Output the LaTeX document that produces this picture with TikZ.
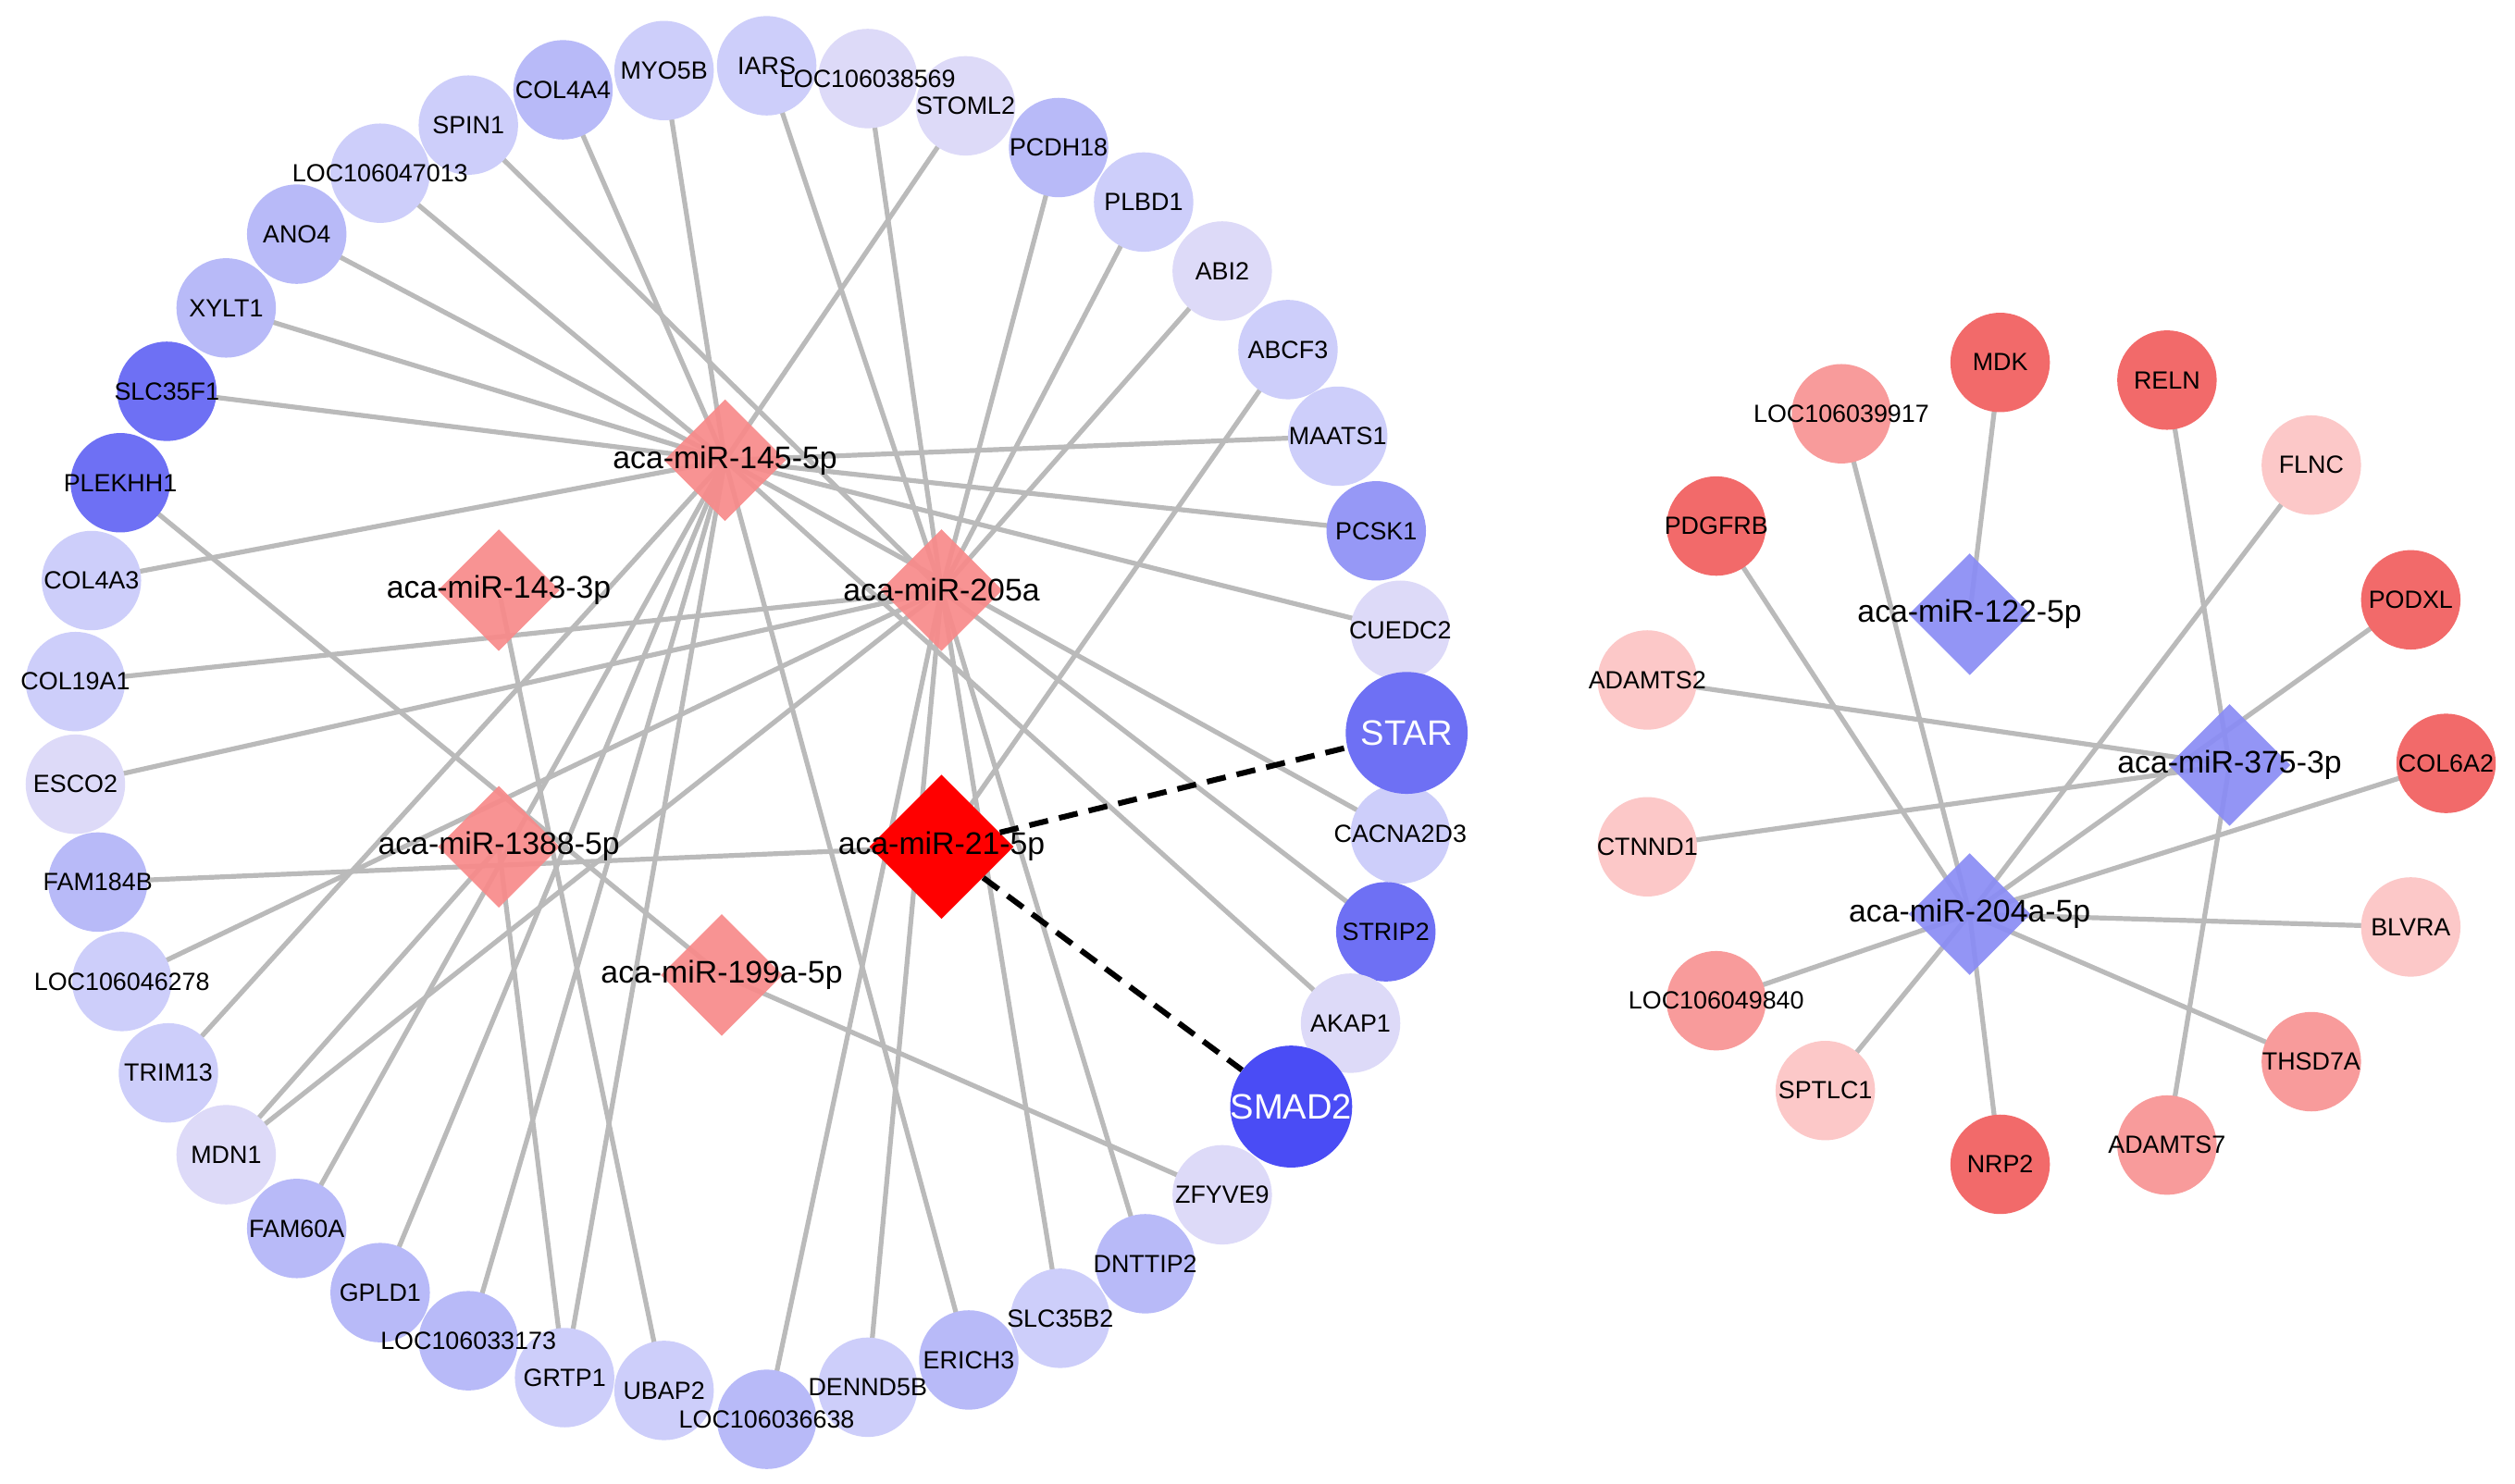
\documentclass[tikz,border=0pt]{standalone}
\usepackage{fontspec}
\setmainfont{Liberation Sans}
\usetikzlibrary{shapes.geometric}
\pgfdeclarelayer{bg}
\pgfdeclarelayer{fg}
\pgfsetlayers{bg,main,fg}
\definecolor{b1}{HTML}{6E70F4}
\definecolor{b0}{HTML}{4A4CF5}
\definecolor{b2}{HTML}{9698F6}
\definecolor{b3}{HTML}{B8BAF8}
\definecolor{b4}{HTML}{CDCEFA}
\definecolor{b5}{HTML}{DDDAF8}
\definecolor{r1}{HTML}{F26A6A}
\definecolor{r2}{HTML}{F89B9B}
\definecolor{r3}{HTML}{FCC8C8}
\definecolor{mr}{HTML}{F88A8A}
\definecolor{mb}{HTML}{8A8CF5}
\definecolor{eg}{HTML}{BABABA}
\tikzset{
 gn/.style={circle,draw=none,fill=#1,minimum size=62pt,inner sep=0pt},
 big/.style={circle,draw=none,fill=#1,minimum size=76pt,inner sep=0pt},
 mi/.style={diamond,draw=none,fill=#1,minimum width=76pt,minimum height=76pt,inner sep=0pt,fill opacity=0.92},
 lab/.style={font=\fontsize{15.5}{15.5}\selectfont,inner sep=0pt},
 mlab/.style={font=\fontsize{19.5}{19.5}\selectfont,inner sep=0pt},
 wlab/.style={font=\fontsize{22}{22}\selectfont,text=white,inner sep=0pt},
 ed/.style={draw=eg,line width=3pt},
 dsh/.style={draw=black,line width=3.5pt,dash pattern=on 12pt off 7pt}
}
\begin{document}
\begin{tikzpicture}[x=1pt,y=-1pt]
\useasboundingbox (0,0) rectangle (1568,925);
\begin{pgfonlayer}{bg}
\fill[white] (0,0) rectangle (1568,925);
\end{pgfonlayer}
\foreach \n/\x/\y/\c in {COL4A4/351/56/b3, MYO5B/414/44/b4, IARS/478/41/b4, LOC106038569/541/49/b5, STOML2/602/66/b5, PCDH18/660/92/b3, PLBD1/713/126/b4, ABI2/762/169/b5, ABCF3/803/218/b4, MAATS1/834/272/b4, PCSK1/858/331/b2, CUEDC2/873/393/b5, CACNA2D3/873/520/b4, STRIP2/864/581/b1, AKAP1/842/638/b5, ZFYVE9/762/745/b5, DNTTIP2/714/788/b3, SLC35B2/661/822/b4, ERICH3/604/848/b3, DENND5B/541/865/b4, LOC106036638/478/885/b3, UBAP2/414/867/b4, GRTP1/352/859/b4, LOC106033173/292/836/b3, GPLD1/237/806/b3, FAM60A/185/766/b3, MDN1/141/720/b5, TRIM13/105/669/b4, LOC106046278/76/612/b4, FAM184B/61/550/b3, ESCO2/47/489/b5, COL19A1/47/425/b4, COL4A3/57/362/b4, PLEKHH1/75/301/b1, SLC35F1/104/244/b1, XYLT1/141/192/b3, ANO4/185/146/b3, LOC106047013/237/108/b4, SPIN1/292/78/b4,
 MDK/1247/226/r1, RELN/1351/237/r1, LOC106039917/1148/258/r2, FLNC/1441/290/r3, PDGFRB/1070/328/r1, PODXL/1503/374/r1, ADAMTS2/1027/424/r3, COL6A2/1525/476/r1, CTNND1/1027/528/r3, BLVRA/1503/578/r3, LOC106049840/1070/624/r2, THSD7A/1441/662/r2, SPTLC1/1138/680/r3, NRP2/1247/726/r1, ADAMTS7/1351/714/r2}
 {\node[gn=\c] (\n) at (\x,\y) {};
  \begin{pgfonlayer}{fg}\node[lab] (t\n) at (\x,\y) {\n};\end{pgfonlayer}}
\node[big=b1] (STAR) at (877,457) {};
\node[big=b0] (SMAD2) at (805,690) {};
\foreach \n/\t/\x/\y/\c in {m145/aca-miR-145-5p/452/287/mr, m143/aca-miR-143-3p/311/368/mr, m205/aca-miR-205a/587/368/mr, m1388/aca-miR-1388-5p/311/528/mr, m199/aca-miR-199a-5p/450/608/mr, m122/aca-miR-122-5p/1228/383/mb, m375/aca-miR-375-3p/1390/477/mb, m204/aca-miR-204a-5p/1228/570/mb}
 {\node[mi=\c] (\n) at (\x,\y) {};
  \begin{pgfonlayer}{fg}\node[mlab] (t\n) at (\x,\y) {\t};\end{pgfonlayer}}
\node[mi=red,minimum width=90pt,minimum height=90pt,fill opacity=1] (m21) at (587,528) {};
\begin{pgfonlayer}{fg}
\node[mlab] (tm21) at (m21) {aca-miR-21-5p};
\node[wlab] (tSTAR) at (STAR) {STAR};
\node[wlab] (tSMAD2) at (SMAD2) {SMAD2};
\end{pgfonlayer}
\begin{pgfonlayer}{bg}
\foreach \g in {SLC35F1,XYLT1,ANO4,LOC106047013,COL4A4,MYO5B,STOML2,MAATS1,PCSK1,CUEDC2,COL4A3,CACNA2D3,AKAP1,ERICH3,GRTP1,LOC106033173,GPLD1,FAM60A,TRIM13}
 \draw[ed] (m145.center) -- (\g.center);
\foreach \g in {SPIN1,IARS,LOC106038569,PCDH18,PLBD1,ABI2,COL19A1,ESCO2,LOC106046278,MDN1,LOC106036638,DENND5B,SLC35B2,DNTTIP2,STRIP2}
 \draw[ed] (m205.center) -- (\g.center);
\foreach \g in {ABCF3,FAM184B}
 \draw[ed] (m21.center) -- (\g.center);
\draw[ed] (m143.center) -- (UBAP2.center);
\draw[ed] (m199.center) -- (PLEKHH1.center);
\draw[ed] (m199.center) -- (ZFYVE9.center);
\draw[ed] (m1388.center) -- (MDN1.center);
\draw[ed] (m1388.center) -- (GRTP1.center);
\draw[ed] (m122.center) -- (MDK.center);
\foreach \g in {RELN,ADAMTS2,CTNND1,ADAMTS7}
 \draw[ed] (m375.center) -- (\g.center);
\foreach \g in {LOC106039917,FLNC,PDGFRB,PODXL,COL6A2,BLVRA,LOC106049840,THSD7A,SPTLC1,NRP2}
 \draw[ed] (m204.center) -- (\g.center);
\end{pgfonlayer}
\draw[dsh] (m21) -- (STAR);
\draw[dsh] (m21) -- (SMAD2);
\end{tikzpicture}
\end{document}
